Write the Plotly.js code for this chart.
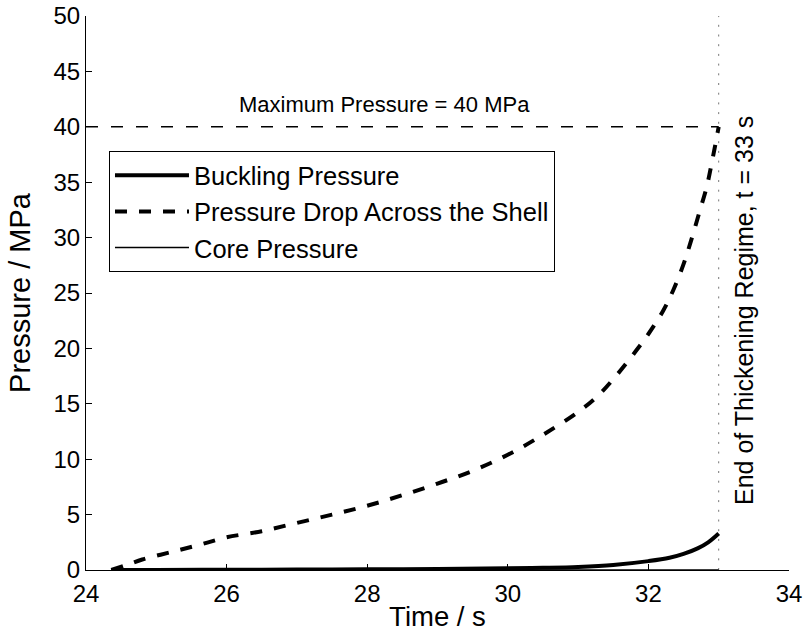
<!DOCTYPE html>
<html>
<head>
<meta charset="utf-8">
<script src="https://cdn.plot.ly/plotly-3.0.1.min.js"></script>
<style>html,body{margin:0;padding:0;background:#fff;}#chart{width:807px;height:642px;}</style>
</head>
<body>
<div id="chart"></div>
<script>
// Data
const dropTime = [24.36, 24.6, 24.8, 25.2, 25.6, 26, 26.5, 27, 27.5, 28, 28.5, 29, 29.5, 30, 30.5, 31.03, 31.31, 31.55, 31.79, 32.0, 32.21, 32.35, 32.5, 32.62, 32.73, 32.83, 32.9, 33];
const dropPressure = [0, 0.5, 0.95, 1.6, 2.25, 2.95, 3.5, 4.25, 5.0, 5.8, 6.75, 7.8, 8.95, 10.4, 12.2, 14.4, 15.9, 17.6, 19.5, 21.3, 23.4, 25.2, 27.6, 30.0, 32.4, 34.6, 36.7, 40];
const bucklingTime = [24.36, 25, 26, 27, 28, 29, 30, 30.5, 31, 31.5, 32, 32.3, 32.5, 32.7, 32.85, 33];
const bucklingPressure = [0, 0.01, 0.02, 0.04, 0.06, 0.1, 0.15, 0.2, 0.28, 0.45, 0.8, 1.1, 1.45, 1.95, 2.5, 3.3];
const coreTime = [24.36, 26, 28, 30, 32, 33];
const corePressure = [0, 0, 0, 0, 0, 0];
const maxPressure = 40;
const endTime = 33;
const xStart = 24;
const yTop = 50;
const seriesNames = ['Buckling Pressure', 'Pressure Drop Across the Shell', 'Core Pressure'];
const maxLabel = 'Maximum Pressure = 40 MPa';
const endLabel = 'End of Thickening Regime, t = 33 s';

const font = 'Liberation Sans, Arial, Helvetica, sans-serif';

const traces = [
  {x: [xStart, endTime], y: [maxPressure, maxPressure], mode: 'lines', showlegend: false, hoverinfo: 'skip',
   line: {color: '#000', width: 1.4, dash: '12px,13px'}},
  {x: [endTime, endTime], y: [0, yTop], mode: 'lines', showlegend: false, hoverinfo: 'skip',
   line: {color: '#777', width: 1, dash: '2px,7.7px'}},
  {x: bucklingTime, y: bucklingPressure, name: seriesNames[0], mode: 'lines',
   line: {color: '#000', width: 4, shape: 'spline'}},
  {x: dropTime, y: dropPressure, name: seriesNames[1], mode: 'lines',
   line: {color: '#000', width: 4, dash: 'dash', shape: 'spline'}},
  {x: coreTime, y: corePressure, name: seriesNames[2], mode: 'lines',
   line: {color: '#000', width: 1.5}}
];

const layout = {
  width: 807, height: 642,
  margin: {l: 86, r: 18, t: 15.5, b: 72},
  paper_bgcolor: '#fff', plot_bgcolor: '#fff',
  font: {family: font, color: '#000', size: 24},
  showlegend: true,
  legend: {x: 0.0327, y: 0.756, xanchor: 'left', yanchor: 'top',
    bgcolor: '#fff', bordercolor: '#000', borderwidth: 1,
    font: {family: font, size: 25.5, color: '#000'}, itemwidth: 74, tracegroupgap: 0},
  xaxis: {range: [24, 34], tickmode: 'linear', tick0: 24, dtick: 2,
    ticks: 'inside', ticklen: 6, tickcolor: '#000', showline: true, linecolor: '#000', linewidth: 1,
    showgrid: false, zeroline: false, mirror: false, ticklabelstandoff: 2,
    tickfont: {family: font, size: 24},
    title: {text: 'Time / s', font: {family: font, size: 27.5}, standoff: 0}},
  yaxis: {range: [0, 50], tickmode: 'linear', tick0: 0, dtick: 5,
    ticks: 'inside', ticklen: 6, tickcolor: '#000', showline: true, linecolor: '#000', linewidth: 1,
    showgrid: false, zeroline: false, mirror: false,
    tickfont: {family: font, size: 24},
    title: {text: 'Pressure / MPa', font: {family: font, size: 29}, standoff: 14}},
  annotations: [
    {x: 28.25, y: 42.0, xref: 'x', yref: 'y', text: maxLabel, showarrow: false,
     font: {family: font, size: 22, color: '#000'}},
    {x: 33.35, y: 23.4, xref: 'x', yref: 'y', text: endLabel, showarrow: false, textangle: -90,
     font: {family: font, size: 25, color: '#000'}}
  ]
};

Plotly.newPlot('chart', traces, layout, {displayModeBar: false, staticPlot: true});
</script>
</body>
</html>
